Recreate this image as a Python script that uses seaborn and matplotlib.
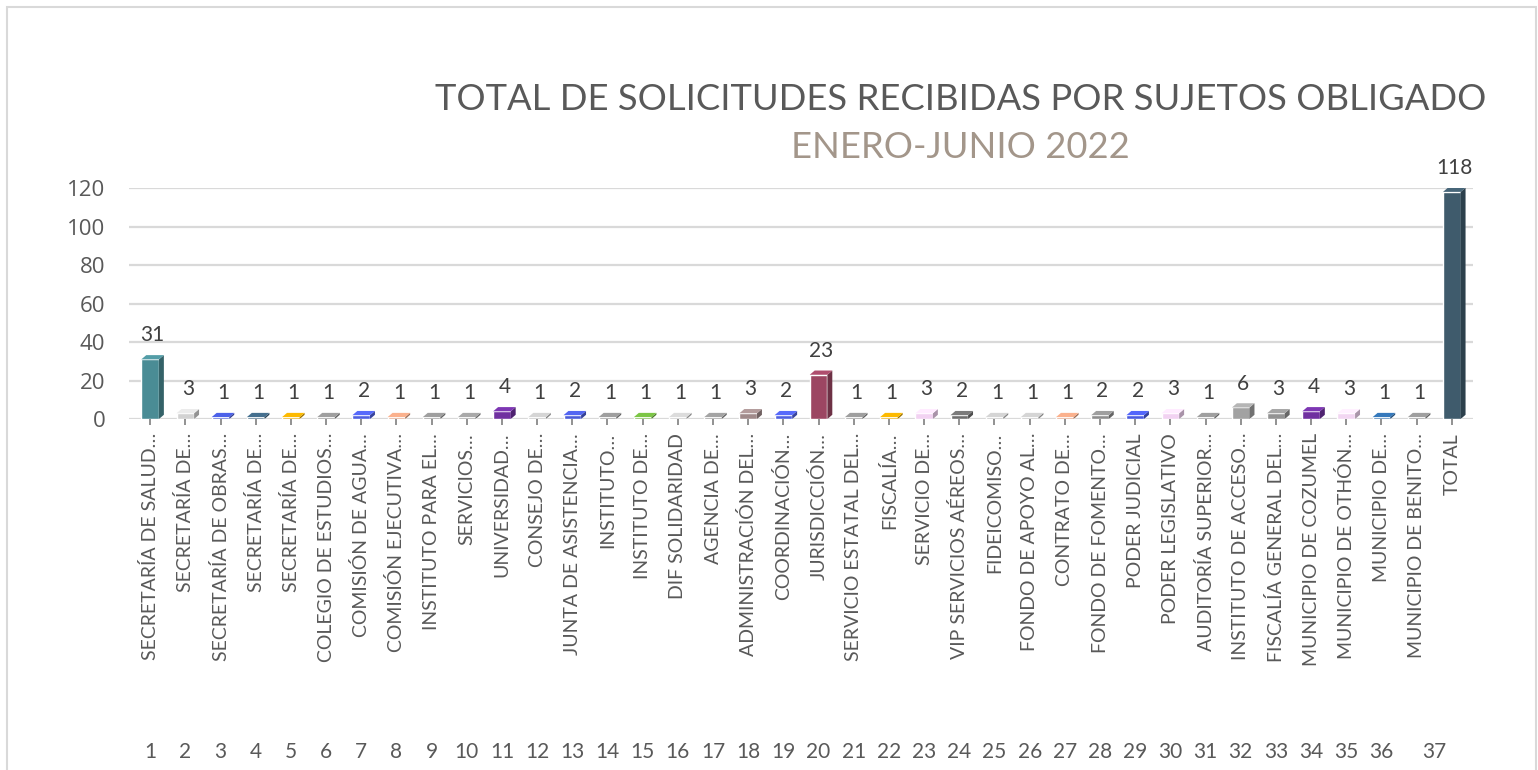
import numpy as np
import pandas as pd
import matplotlib
matplotlib.use("Agg")
import matplotlib.pyplot as plt
import matplotlib.transforms as mtransforms
from matplotlib.patches import Polygon, Rectangle
import seaborn as sns

# data
labels = [
    "SECRETARÍA DE SALUD…", "SECRETARÍA DE…", "SECRETARÍA DE OBRAS…", "SECRETARÍA DE…",
    "SECRETARÍA DE…", "COLEGIO DE ESTUDIOS…", "COMISIÓN DE AGUA…", "COMISIÓN EJECUTIVA…",
    "INSTITUTO PARA EL…", "SERVICIOS…", "UNIVERSIDAD…", "CONSEJO DE…",
    "JUNTA DE ASISTENCIA…", "INSTITUTO…", "INSTITUTO DE…", "DIF SOLIDARIDAD",
    "AGENCIA DE…", "ADMINISTRACIÓN DEL…", "COORDINACIÓN…", "JURISDICCIÓN…",
    "SERVICIO ESTATAL DEL…", "FISCALÍA…", "SERVICIO DE…", "VIP SERVICIOS AÉREOS…",
    "FIDEICOMISO…", "FONDO DE APOYO AL…", "CONTRATO DE…", "FONDO DE FOMENTO…",
    "PODER JUDICIAL", "PODER LEGISLATIVO", "AUDITORÍA SUPERIOR…", "INSTITUTO DE ACCESO…",
    "FISCALÍA GENERAL DEL…", "MUNICIPIO DE COZUMEL", "MUNICIPIO DE OTHÓN…", "MUNICIPIO DE…",
    "MUNICIPIO DE BENITO…", "TOTAL",
]
values = [31, 3, 1, 1, 1, 1, 2, 1, 1, 1, 4, 1, 2, 1, 1, 1, 1, 3, 2, 23,
          1, 1, 3, 2, 1, 1, 1, 2, 2, 3, 1, 6, 3, 4, 3, 1, 1, 118]
bar_colors = [
    "#4A8C95", "#D2D2D2", "#4457D0", "#3E6480", "#E2A600", "#8E8E8E", "#4E5FE0", "#E09E7E",
    "#8E8E8E", "#979797", "#7030A0", "#BEBEBE", "#4A5BD8", "#8E8E8E", "#6FB13E", "#C4C4C4",
    "#929292", "#A08A8A", "#4E5FE0", "#9C4662", "#8E8E8E", "#E2A600", "#F2D2F2", "#6E6E6E",
    "#BEBEBE", "#BEBEBE", "#E09E7E", "#8E8E8E", "#4A5BE0", "#F2D2F2", "#8E8E8E", "#A2A2A2",
    "#939393", "#7030A0", "#F2D6F2", "#2F6CA8", "#8E8E8E", "#3F5B6C",
]
group_numbers = list(range(1, 38))
y_ticks = [0, 20, 40, 60, 80, 100, 120]
title = "TOTAL DE SOLICITUDES RECIBIDAS POR SUJETOS OBLIGADO"
subtitle = "ENERO-JUNIO 2022"

ids = [str(i) for i in range(1, len(values) + 1)]
df = pd.DataFrame({"id": ids, "valor": values})
palette = dict(zip(ids, bar_colors))

sns.set_theme(style="white")
plt.rcParams["font.family"] = ["Lato", "DejaVu Sans"]
plt.rcParams["ytick.major.pad"] = 17

text_gray = "#595959"
fig = plt.figure(figsize=(15.38, 7.70), dpi=100)
ax = fig.add_axes([0.0839, 0.4558, 0.8738, 0.3000])

sns.barplot(data=df, x="id", y="valor", hue="id", palette=palette, legend=False,
            width=0.5, order=ids, saturation=1, ax=ax, zorder=3)

ax.set_ylim(0, 120)
ax.set_xlim(-0.6, len(values) - 0.4)
ax.set_yticks(y_ticks)
ax.set_yticklabels([str(t) for t in y_ticks], fontsize=16, color=text_gray,
                   family=["Open Sans", "DejaVu Sans"])
ax.yaxis.grid(True, color="#D9D9D9", lw=1.6, zorder=0)
ax.xaxis.grid(False)
for s in ax.spines.values():
    s.set_visible(False)
ax.set_xlabel("")
ax.set_ylabel("")

# fake 3d faces on every bar
dx, dy = 0.14, 2.2
for p in ax.patches:
    x0 = p.get_x()
    w = p.get_width()
    h = p.get_height()
    c = np.array(matplotlib.colors.to_rgb(p.get_facecolor()))
    side = Polygon([(x0 + w, 0), (x0 + w + dx, dy), (x0 + w + dx, h + dy), (x0 + w, h)],
                   closed=True, facecolor=c * 0.7, edgecolor="none", zorder=3)
    top = Polygon([(x0, h), (x0 + dx, h + dy), (x0 + w + dx, h + dy), (x0 + w, h)],
                  closed=True, facecolor=np.minimum(c * 1.12, 1), edgecolor="none", zorder=3)
    ax.add_patch(side)
    ax.add_patch(top)

for i, v in enumerate(values):
    ax.annotate(str(v), (i + dx / 2, v + dy), xytext=(0, 7), textcoords="offset points",
                ha="center", va="bottom", fontsize=15, color="#404040")

ax.set_xticks(range(len(labels)))
ax.set_xticklabels(labels, rotation=90, fontsize=14, color=text_gray)
ax.tick_params(axis="x", length=4, width=1.2, color="#7F7F7F", pad=6, bottom=True)
ax.tick_params(axis="y", left=False, length=0, pad=17)

# outer level of the category axis
trans = mtransforms.blended_transform_factory(ax.transData, fig.transFigure)
for n in group_numbers:
    xpos = n - 1 if n < 37 else 36.5
    ax.text(xpos, 1 - 752 / 770, str(n), transform=trans, ha="center", va="center",
            fontsize=15, color=text_gray)

fig.text(0.6245, 1 - 100 / 770, title, ha="center", va="center", fontsize=26.2,
         color=text_gray)
fig.text(0.6245, 1 - 147 / 770, subtitle, ha="center", va="center", fontsize=26.2,
         color="#A3968A")

fig.patches.append(Rectangle((7 / 1538, -0.02), 1529 / 1538, 1 - 7 / 770 + 0.02,
                             transform=fig.transFigure, fill=False,
                             edgecolor="#D9D9D9", lw=1.5))

fig.savefig("out.png", dpi=100)
